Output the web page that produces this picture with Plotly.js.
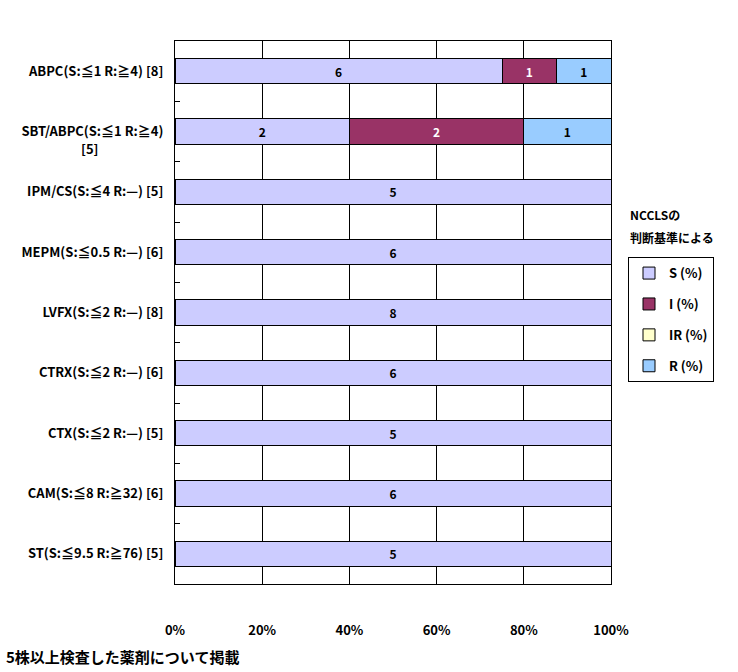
<!DOCTYPE html>
<html><head><meta charset="utf-8">
<script src="https://cdn.plot.ly/plotly-3.0.1.min.js"></script>
<style>body{margin:0;padding:0;background:#fff}#chart{width:738px;height:672px}</style>
</head><body><div id="chart"></div>
<script>
const categories = [
  "ABPC(S:≦1 R:≧4) [8]",
  "SBT/ABPC(S:≦1 R:≧4) [5]",
  "IPM/CS(S:≦4 R:—) [5]",
  "MEPM(S:≦0.5 R:—) [6]",
  "LVFX(S:≦2 R:—) [8]",
  "CTRX(S:≦2 R:—) [6]",
  "CTX(S:≦2 R:—) [5]",
  "CAM(S:≦8 R:≧32) [6]",
  "ST(S:≦9.5 R:≧76) [5]"
];
const wrappedLabel = {"SBT/ABPC(S:≦1 R:≧4) [5]": ["SBT/ABPC(S:≦1 R:≧4)", "[5]"]};
const S_vals  = [6, 2, 5, 6, 8, 6, 5, 6, 5];
const I_vals  = [1, 2, 0, 0, 0, 0, 0, 0, 0];
const IR_vals = [0, 0, 0, 0, 0, 0, 0, 0, 0];
const R_vals  = [1, 1, 0, 0, 0, 0, 0, 0, 0];
const seriesNames = ["S (%)", "I (%)", "IR (%)", "R (%)"];
const seriesColors = ["#CCCCFF", "#993366", "#FFFFCC", "#99CCFF"];
const textColors = ["#000000", "#FFFFFF", "#000000", "#000000"];
const xTickVals = [0, 20, 40, 60, 80, 100];
const xTickText = ["0%", "20%", "40%", "60%", "80%", "100%"];
const legendTitle = ["NCCLSの", "判断基準による"];
const footnote = "5株以上検査した薬剤について掲載";

const font = "'Noto Sans CJK JP', 'DejaVu Sans', sans-serif";
const allVals = [S_vals, I_vals, IR_vals, R_vals];
const traces = allVals.map((vals, i) => ({
  type: 'bar', orientation: 'h',
  name: seriesNames[i],
  y: categories, x: vals,
  text: vals.map(v => v > 0 ? String(v) : ''),
  textposition: 'inside', insidetextanchor: 'middle',
  constraintext: 'none',
  textfont: {family: font, size: 12, color: textColors[i], weight: 'bold'},
  marker: {color: seriesColors[i], line: {color: '#000', width: 1}},
  legendgroup: 'g' + i,
  hoverinfo: 'none'
}));

const tickText = categories.map(c => wrappedLabel[c] ? wrappedLabel[c][0] : c);
const annotations = [];
categories.forEach(c => {
  if (wrappedLabel[c]) {
    annotations.push({xref: 'paper', yref: 'y', x: -0.195, y: c, xanchor: 'center', yanchor: 'middle',
      yshift: -17, text: wrappedLabel[c][1], showarrow: false,
      font: {family: font, size: 13, color: '#000', weight: 'bold'}});
  }
});
annotations.push(
  {xref: 'paper', yref: 'paper', x: 1.039, y: 0.6796, xanchor: 'left', yanchor: 'middle',
   text: legendTitle[0], showarrow: false, font: {family: font, size: 12, color: '#000', weight: 'bold'}},
  {xref: 'paper', yref: 'paper', x: 1.039, y: 0.639, xanchor: 'left', yanchor: 'middle',
   text: legendTitle[1], showarrow: false, font: {family: font, size: 12, color: '#000', weight: 'bold'}},
  {xref: 'paper', yref: 'paper', x: -0.392, y: -0.1344, xanchor: 'left', yanchor: 'middle',
   text: footnote, showarrow: false, font: {family: font, size: 15, color: '#000', weight: 'bold'}}
);

const layout = {
  width: 738, height: 672,
  margin: {l: 175, r: 127, t: 41, b: 88},
  paper_bgcolor: '#fff', plot_bgcolor: '#fff',
  barmode: 'stack', barnorm: 'percent', bargap: 0.585,
  font: {family: font, size: 12, color: '#000'},
  showlegend: true,
  legend: {
    x: 1.039, xanchor: 'left', y: 0.602, yanchor: 'top',
    bordercolor: '#000', borderwidth: 1,
    traceorder: 'grouped', tracegroupgap: 11,
    font: {family: font, size: 13, color: '#000', weight: 'bold'},
    itemwidth: 30
  },
  xaxis: {
    range: [0, 100], tickvals: xTickVals, ticktext: xTickText,
    showgrid: true, gridcolor: '#000', gridwidth: 1,
    showline: true, linecolor: '#000', linewidth: 1, mirror: true,
    ticks: '', ticklabelstandoff: 34, zeroline: false,
    tickfont: {family: font, size: 13, color: '#000', weight: 'bold'}
  },
  yaxis: {
    autorange: 'reversed', type: 'category',
    tickvals: categories, ticktext: tickText,
    showgrid: false,
    showline: true, linecolor: '#000', linewidth: 1, mirror: true,
    ticks: 'inside', ticklen: 5, tickcolor: '#000', tickson: 'boundaries',
    ticklabelstandoff: 8,
    tickfont: {family: font, size: 13, color: '#000', weight: 'bold'}
  },
  annotations: annotations
};
Plotly.newPlot('chart', traces, layout, {displayModeBar: false, staticPlot: true});
</script></body></html>
